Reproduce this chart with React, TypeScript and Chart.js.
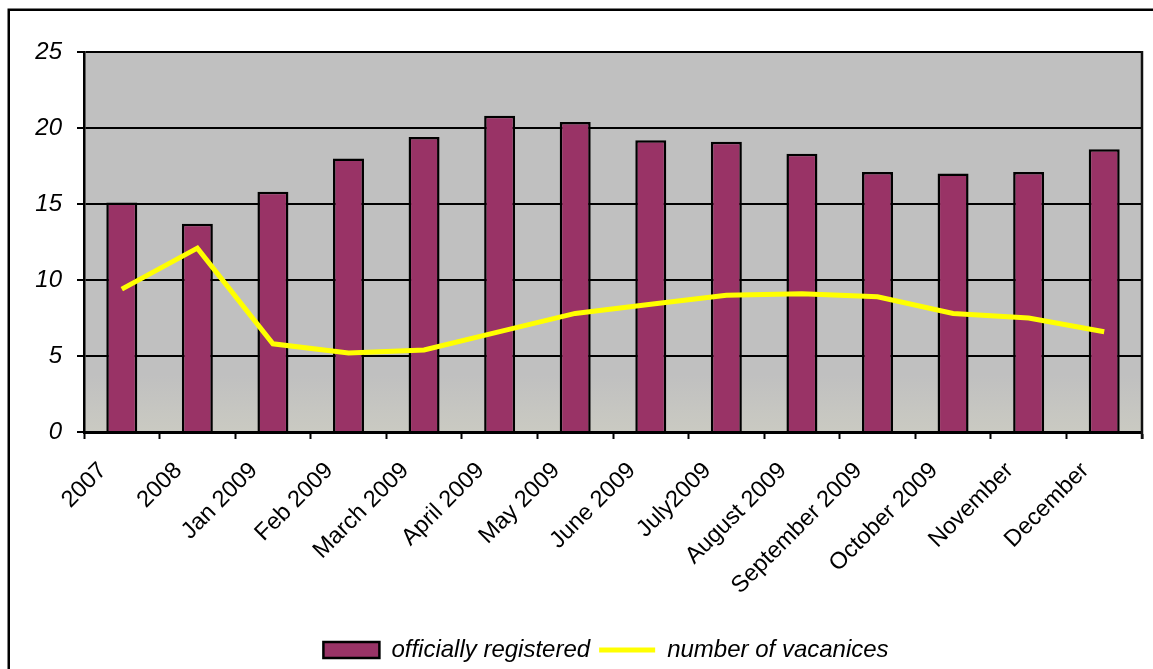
import React, { useEffect, useRef } from "react";
import { Chart, registerables } from "chart.js";

Chart.register(...registerables);

const categories = [
  "2007",
  "2008",
  "Jan 2009",
  "Feb 2009",
  "March 2009",
  "April 2009",
  "May 2009",
  "June 2009",
  "July2009",
  "August 2009",
  "September 2009",
  "October 2009",
  "November",
  "December",
];

const officiallyRegistered = [15.1, 13.7, 15.8, 18.0, 19.4, 20.8, 20.4, 19.2, 19.1, 18.3, 17.1, 17.0, 17.1, 18.6];
const numberOfVacancies = [9.4, 12.1, 5.8, 5.2, 5.4, 6.6, 7.8, 8.4, 9.0, 9.1, 8.9, 7.8, 7.5, 6.6];

const yTicks = [0, 5, 10, 15, 20, 25];

const FONT = "'Liberation Sans', Arial, sans-serif";

const framePlugin = {
  id: "framePlugin",
  afterLayout(chart: any) {
    const lg = chart.legend;
    if (lg) {
      lg.left += 20;
      lg.right += 20;
    }
  },
  beforeDraw(chart: any) {
    const { ctx, chartArea } = chart;
    const { left, top, right, bottom } = chartArea;
    ctx.save();
    ctx.strokeStyle = "#000";
    ctx.lineWidth = 2.5;
    ctx.strokeRect(8.75, 9.75, 3000, 3000);
    const g = ctx.createLinearGradient(0, top, 0, bottom);
    g.addColorStop(0, "#C0C0C0");
    g.addColorStop(0.85, "#C0C0C0");
    g.addColorStop(1, "#CACAC2");
    ctx.fillStyle = g;
    ctx.fillRect(left, top, right - left, bottom - top);
    ctx.restore();
  },
  afterDatasetsDraw(chart: any) {
    const { ctx, chartArea } = chart;
    const { top, right, bottom } = chartArea;
    ctx.save();
    ctx.strokeStyle = "#111";
    ctx.lineWidth = 2.5;
    ctx.beginPath();
    ctx.moveTo(right, top - 1);
    ctx.lineTo(right, bottom + 7);
    ctx.stroke();
    ctx.restore();
  },
};

export default function App() {
  const ref = useRef<HTMLCanvasElement | null>(null);

  useEffect(() => {
    if (!ref.current) return;
    const chart = new Chart(ref.current, {
      type: "bar",
      data: {
        labels: categories,
        datasets: [
          {
            type: "bar",
            label: "officially registered",
            data: officiallyRegistered,
            backgroundColor: "#993366",
            borderColor: "#000000",
            borderWidth: 2.5,
            barPercentage: 0.41,
            categoryPercentage: 1,
            pointStyle: "rect",
            order: 1,
          } as any,
          {
            type: "line",
            label: "number of vacanices",
            data: numberOfVacancies,
            borderColor: "#FFFF00",
            backgroundColor: "#FFFF00",
            borderWidth: 5,
            pointRadius: 0,
            pointHoverRadius: 0,
            tension: 0,
            pointStyle: "line",
            order: 0,
          } as any,
        ],
      },
      options: {
        responsive: false,
        animation: false,
        layout: { padding: { left: 30, right: 11, top: 52, bottom: -3 } },
        plugins: {
          tooltip: { enabled: false },
          legend: {
            position: "bottom",
            labels: {
              usePointStyle: true,
              pointStyleWidth: 56,
              boxHeight: 16,
              padding: 9,
              color: "#000",
              font: { family: FONT, size: 24, style: "italic" },
              sort: (a: any, b: any) => a.datasetIndex - b.datasetIndex,
            },
          },
        },
        scales: {
          x: {
            offset: true,
            grid: {
              offset: true,
              drawOnChartArea: false,
              drawTicks: true,
              tickLength: 7,
              tickWidth: 2,
              tickColor: "#000",
            },
            border: { display: true, color: "#000", width: 3 },
            ticks: {
              autoSkip: false,
              maxRotation: 45,
              minRotation: 45,
              labelOffset: -19,
              padding: 18,
              color: "#000",
              font: { family: FONT, size: 23.5 },
            },
            afterFit: (scale: any) => {
              scale.height = 197;
            },
          },
          y: {
            min: 0,
            max: 25,
            afterBuildTicks: (scale: any) => {
              scale.ticks = yTicks.map((v) => ({ value: v }));
            },
            grid: {
              color: "#000",
              lineWidth: 2,
              tickLength: 7,
              tickColor: "#000",
              tickWidth: 2,
            },
            border: { display: true, color: "#000", width: 2.5 },
            ticks: {
              padding: 15,
              color: "#000",
              font: { family: FONT, size: 24, style: "italic" },
            },
            afterFit: (scale: any) => {
              scale.width = 54;
            },
          },
        },
      },
      plugins: [framePlugin],
    });
    return () => chart.destroy();
  }, []);

  return (
    <div style={{ position: "absolute", left: 0, top: 0, width: 1153, height: 669, background: "#fff" }}>
      <canvas ref={ref} width={1153} height={669} style={{ display: "block" }} />
    </div>
  );
}
